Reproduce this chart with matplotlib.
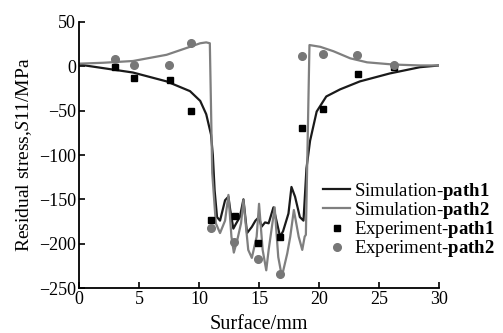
import matplotlib.pyplot as plt
import numpy as np

plt.rcParams['font.family'] = ['Liberation Serif', 'DejaVu Serif']
plt.rcParams['mathtext.fontset'] = 'custom'
plt.rcParams['mathtext.rm'] = 'Liberation Serif'
plt.rcParams['mathtext.it'] = 'Liberation Serif:italic'
plt.rcParams['mathtext.bf'] = 'Liberation Serif:bold'

# simulation, path 1 (black)
sim1_x = [0, 2, 4.5, 7.3, 9.25, 10.1, 10.6, 11.0, 11.15, 11.3, 11.5, 11.75, 12.17, 12.45,
          12.6, 12.86, 13.1, 13.4, 13.7, 14.0, 14.4, 14.7, 15.0, 15.2, 15.5, 15.8,
          16.2, 16.5, 16.75, 17.0, 17.45, 17.7, 18.0, 18.4, 18.7, 18.8, 18.95,
          19.25, 19.8, 20.6, 21.75, 23.4, 25.9, 28.4, 30]
sim1_y = [2, -2, -7, -17, -28, -39, -54, -77, -100, -140, -170, -174, -151, -147,
          -162, -183, -177, -170, -150, -188, -181, -174, -170, -181, -176, -177,
          -159, -177, -192, -186, -166, -136, -147, -170, -174, -151, -115,
          -84, -51, -34, -26, -17, -8, -1, 1]

# simulation, path 2 (grey)
sim2_x = [0, 2, 4.5, 7.3, 9.25, 10.1, 10.6, 10.9, 11.1, 11.4, 11.75, 12.17, 12.45,
          12.7, 12.9, 13.2, 13.5, 13.7, 14.1, 14.4, 14.8, 15.0, 15.3, 15.6, 15.8,
          16.3, 16.6, 16.9, 17.35, 17.6, 17.9, 18.3, 18.6, 18.8, 18.9, 19.2,
          20.1, 21.2, 22.6, 24.0, 26.2, 28.4, 30]
sim2_y = [3, 4, 6, 13, 22, 26, 27, 26, -120, -177, -188, -174, -145,
          -192, -210, -195, -177, -151, -207, -216, -192, -155, -207, -230, -207,
          -159, -215, -237, -211, -192, -162, -192, -207, -192, -190, 24,
          22, 17, 9, 4.5, 2, 1, 1]

# experiment points
exp1_x = [3.0, 4.6, 7.6, 9.3, 11.0, 13.0, 14.9, 16.75, 18.6, 20.3, 23.25, 26.2]
exp1_y = [-1, -13, -15, -50, -173, -169, -199, -192, -70, -48, -9, -1]
exp2_x = [3.0, 4.6, 7.5, 9.3, 11.0, 12.9, 14.9, 16.75, 18.6, 20.3, 23.2, 26.2]
exp2_y = [8, 1, 2, 26, -182, -198, -217, -234, 12, 14, 13, 1]

fig = plt.figure(figsize=(5.03, 3.33), dpi=100)
ax = fig.add_axes([0.157, 0.135, 0.716, 0.799])

ax.plot(sim1_x, sim1_y, color='#1a1a1a', lw=1.6, label='Simulation-$\\mathbf{path1}$')
ax.plot(sim2_x, sim2_y, color='#7f7f7f', lw=1.6, label='Simulation-$\\mathbf{path2}$')
ax.plot(exp1_x, exp1_y, 's', color='black', ms=5, label='Experiment-$\\mathbf{path1}$')
ax.plot(exp2_x, exp2_y, 'o', color='#777777', ms=5.5, label='Experiment-$\\mathbf{path2}$')

ax.set_xlim(0, 30)
ax.set_ylim(-250, 50)
ax.set_xticks(np.arange(0, 31, 5))
ax.set_yticks(np.arange(-250, 51, 50))
ax.spines['top'].set_visible(False)
ax.spines['right'].set_visible(False)
ax.spines['left'].set_linewidth(1.3)
ax.spines['bottom'].set_linewidth(1.3)
ax.tick_params(direction='in', labelsize=13, width=1.2, length=4, pad=2)

ax.set_xlabel('Surface/mm', fontsize=14.5, labelpad=5)
ax.set_ylabel('Residual stress,$\\mathit{S}$11/MPa', fontsize=14, labelpad=4)

fig.legend(loc='upper left', bbox_to_anchor=(0.642, 0.457), frameon=False,
           fontsize=13.5, handlelength=1.45, handletextpad=0.2, labelspacing=-0.1,
           borderpad=0, borderaxespad=0)

fig.savefig('out.png', dpi=100)
